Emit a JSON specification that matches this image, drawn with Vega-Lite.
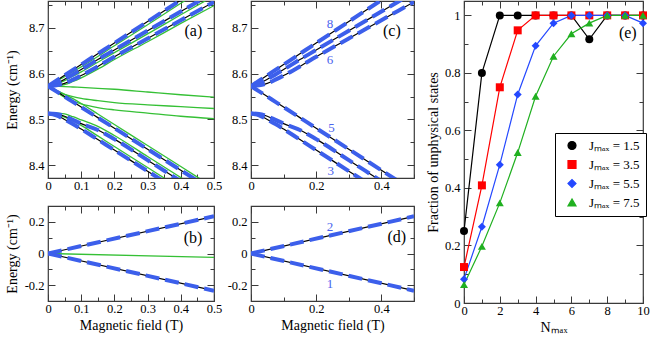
{
"$schema":"https://vega.github.io/schema/vega-lite/v6.json",
"padding":{"left":4,"top":-2,"right":2,"bottom":1},
"config":{
 "font":"Liberation Serif",
 "view":{"stroke":"#3a3a3a","strokeWidth":1.2},
 "axis":{"grid":false,"domain":false,"labelFont":"Liberation Serif","labelFontSize":12.5,"labelColor":"#000","titleFont":"Liberation Serif","titleFontSize":14,"titleFontWeight":"normal","titleColor":"#000","tickColor":"#3a3a3a","tickWidth":1,"labelFlush":false,"labelOverlap":false},
 "axisBottom":{"labelPadding":8,"titlePadding":1},
 "axisLeft":{"labelPadding":11,"titlePadding":4},
 "axisTop":{"minExtent":0,"maxExtent":0},
 "axisRight":{"minExtent":0,"maxExtent":0}
},
"resolve":{"scale":{"fill":"independent","stroke":"independent","shape":"independent"},"legend":{"fill":"independent","stroke":"independent","shape":"independent"}},
"datasets":{
"hf":[
{"c":"U1","x":0,"y":8.573},{"c":"U1","x":0.025,"y":8.5848},{"c":"U1","x":0.05,"y":8.5965},{"c":"U1","x":0.075,"y":8.6083},{"c":"U1","x":0.1,"y":8.62},{"c":"U1","x":0.15,"y":8.6435},{"c":"U1","x":0.2,"y":8.667},{"c":"U1","x":0.3,"y":8.714},{"c":"U1","x":0.4,"y":8.761},{"c":"U1","x":0.5,"y":8.808},
{"c":"U2","x":0,"y":8.573},{"c":"U2","x":0.025,"y":8.5785},{"c":"U2","x":0.05,"y":8.588},{"c":"U2","x":0.075,"y":8.5985},{"c":"U2","x":0.1,"y":8.609},{"c":"U2","x":0.15,"y":8.631},{"c":"U2","x":0.2,"y":8.652},{"c":"U2","x":0.3,"y":8.694},{"c":"U2","x":0.4,"y":8.736},{"c":"U2","x":0.5,"y":8.778},
{"c":"U3","x":0,"y":8.573},{"c":"U3","x":0.025,"y":8.5745},{"c":"U3","x":0.05,"y":8.579},{"c":"U3","x":0.075,"y":8.587},{"c":"U3","x":0.1,"y":8.596},{"c":"U3","x":0.15,"y":8.616},{"c":"U3","x":0.2,"y":8.637},{"c":"U3","x":0.3,"y":8.677},{"c":"U3","x":0.4,"y":8.717},{"c":"U3","x":0.5,"y":8.757},
{"c":"D1","x":0,"y":8.573},{"c":"D1","x":0.025,"y":8.5615},{"c":"D1","x":0.05,"y":8.55},{"c":"D1","x":0.075,"y":8.5385},{"c":"D1","x":0.1,"y":8.527},{"c":"D1","x":0.15,"y":8.504},{"c":"D1","x":0.2,"y":8.481},{"c":"D1","x":0.3,"y":8.435},{"c":"D1","x":0.4,"y":8.389},{"c":"D1","x":0.5,"y":8.343},
{"c":"D2","x":0,"y":8.513},{"c":"D2","x":0.025,"y":8.512},{"c":"D2","x":0.05,"y":8.507},{"c":"D2","x":0.075,"y":8.499},{"c":"D2","x":0.1,"y":8.491},{"c":"D2","x":0.15,"y":8.477},{"c":"D2","x":0.2,"y":8.457},{"c":"D2","x":0.3,"y":8.411},{"c":"D2","x":0.4,"y":8.365},{"c":"D2","x":0.5,"y":8.319},
{"c":"D3","x":0,"y":8.513},{"c":"D3","x":0.025,"y":8.509},{"c":"D3","x":0.05,"y":8.5},{"c":"D3","x":0.075,"y":8.49},{"c":"D3","x":0.1,"y":8.479},{"c":"D3","x":0.15,"y":8.456},{"c":"D3","x":0.2,"y":8.433},{"c":"D3","x":0.3,"y":8.387},{"c":"D3","x":0.4,"y":8.341},{"c":"D3","x":0.5,"y":8.295},
{"c":"GU1","x":0,"y":8.573},{"c":"GU1","x":0.025,"y":8.5838},{"c":"GU1","x":0.05,"y":8.5935},{"c":"GU1","x":0.075,"y":8.6043},{"c":"GU1","x":0.1,"y":8.615},{"c":"GU1","x":0.15,"y":8.6375},{"c":"GU1","x":0.2,"y":8.661},{"c":"GU1","x":0.3,"y":8.707},{"c":"GU1","x":0.4,"y":8.754},{"c":"GU1","x":0.5,"y":8.8},
{"c":"GU2","x":0,"y":8.573},{"c":"GU2","x":0.025,"y":8.5775},{"c":"GU2","x":0.05,"y":8.585},{"c":"GU2","x":0.075,"y":8.5945},{"c":"GU2","x":0.1,"y":8.604},{"c":"GU2","x":0.15,"y":8.625},{"c":"GU2","x":0.2,"y":8.646},{"c":"GU2","x":0.3,"y":8.687},{"c":"GU2","x":0.4,"y":8.729},{"c":"GU2","x":0.5,"y":8.77},
{"c":"GU3","x":0,"y":8.573},{"c":"GU3","x":0.025,"y":8.5735},{"c":"GU3","x":0.05,"y":8.576},{"c":"GU3","x":0.075,"y":8.583},{"c":"GU3","x":0.1,"y":8.591},{"c":"GU3","x":0.15,"y":8.61},{"c":"GU3","x":0.2,"y":8.631},{"c":"GU3","x":0.3,"y":8.67},{"c":"GU3","x":0.4,"y":8.71},{"c":"GU3","x":0.5,"y":8.749},
{"c":"GM1","x":0,"y":8.573},{"c":"GM1","x":0.025,"y":8.5725},{"c":"GM1","x":0.05,"y":8.572},{"c":"GM1","x":0.075,"y":8.571},{"c":"GM1","x":0.1,"y":8.57},{"c":"GM1","x":0.15,"y":8.568},{"c":"GM1","x":0.2,"y":8.566},{"c":"GM1","x":0.3,"y":8.56},{"c":"GM1","x":0.4,"y":8.554},{"c":"GM1","x":0.5,"y":8.549},
{"c":"GM2","x":0,"y":8.573},{"c":"GM2","x":0.025,"y":8.562},{"c":"GM2","x":0.05,"y":8.555},{"c":"GM2","x":0.075,"y":8.55},{"c":"GM2","x":0.1,"y":8.546},{"c":"GM2","x":0.15,"y":8.541},{"c":"GM2","x":0.2,"y":8.537},{"c":"GM2","x":0.3,"y":8.532},{"c":"GM2","x":0.4,"y":8.528},{"c":"GM2","x":0.5,"y":8.524},
{"c":"GM3","x":0,"y":8.573},{"c":"GM3","x":0.025,"y":8.56},{"c":"GM3","x":0.05,"y":8.548},{"c":"GM3","x":0.075,"y":8.54},{"c":"GM3","x":0.1,"y":8.534},{"c":"GM3","x":0.15,"y":8.526},{"c":"GM3","x":0.2,"y":8.521},{"c":"GM3","x":0.3,"y":8.514},{"c":"GM3","x":0.4,"y":8.507},{"c":"GM3","x":0.5,"y":8.502},
{"c":"GD1","x":0,"y":8.573},{"c":"GD1","x":0.025,"y":8.5635},{"c":"GD1","x":0.05,"y":8.555},{"c":"GD1","x":0.075,"y":8.5455},{"c":"GD1","x":0.1,"y":8.535},{"c":"GD1","x":0.15,"y":8.512},{"c":"GD1","x":0.2,"y":8.489},{"c":"GD1","x":0.3,"y":8.443},{"c":"GD1","x":0.4,"y":8.397},{"c":"GD1","x":0.5,"y":8.351},
{"c":"GD2","x":0,"y":8.513},{"c":"GD2","x":0.025,"y":8.514},{"c":"GD2","x":0.05,"y":8.512},{"c":"GD2","x":0.075,"y":8.506},{"c":"GD2","x":0.1,"y":8.499},{"c":"GD2","x":0.15,"y":8.485},{"c":"GD2","x":0.2,"y":8.465},{"c":"GD2","x":0.3,"y":8.419},{"c":"GD2","x":0.4,"y":8.373},{"c":"GD2","x":0.5,"y":8.327},
{"c":"GD3","x":0,"y":8.513},{"c":"GD3","x":0.025,"y":8.511},{"c":"GD3","x":0.05,"y":8.505},{"c":"GD3","x":0.075,"y":8.497},{"c":"GD3","x":0.1,"y":8.487},{"c":"GD3","x":0.15,"y":8.464},{"c":"GD3","x":0.2,"y":8.441},{"c":"GD3","x":0.3,"y":8.395},{"c":"GD3","x":0.4,"y":8.349},{"c":"GD3","x":0.5,"y":8.303}
],
"lo":[
{"c":"P","x":0,"y":0},{"c":"P","x":0.5,"y":0.235},
{"c":"M","x":0,"y":0},{"c":"M","x":0.5,"y":-0.235},
{"c":"G0","x":0,"y":0},{"c":"G0","x":0.5,"y":-0.025}
],
"lab":[
{"p":"a","x":0.438,"y":8.6925,"t":"(a)","k":"p"},
{"p":"b","x":0.437,"y":0.095,"t":"(b)","k":"p"},
{"p":"c","x":0.432,"y":8.6925,"t":"(c)","k":"p"},
{"p":"c","x":0.242,"y":8.709,"t":"8","k":"n"},
{"p":"c","x":0.242,"y":8.629,"t":"6","k":"n"},
{"p":"c","x":0.247,"y":8.481,"t":"5","k":"n"},
{"p":"c","x":0.245,"y":8.388,"t":"3","k":"n"},
{"p":"d","x":0.447,"y":0.105,"t":"(d)","k":"p"},
{"p":"d","x":0.242,"y":0.168,"t":"2","k":"n"},
{"p":"d","x":0.242,"y":-0.19,"t":"1","k":"n"},
{"p":"e","x":9.15,"y":0.9375,"t":"(e)","k":"p"}
],
"frac":[
{"J":"1.5","x":0,"y":0.25},{"J":"1.5","x":1,"y":0.8},{"J":"1.5","x":2,"y":1},{"J":"1.5","x":3,"y":1},{"J":"1.5","x":4,"y":1},{"J":"1.5","x":5,"y":1},{"J":"1.5","x":6,"y":1},{"J":"1.5","x":7,"y":0.917},{"J":"1.5","x":8,"y":1},{"J":"1.5","x":9,"y":1},{"J":"1.5","x":10,"y":1},
{"J":"3.5","x":0,"y":0.125},{"J":"3.5","x":1,"y":0.409},{"J":"3.5","x":2,"y":0.75},{"J":"3.5","x":3,"y":0.948},{"J":"3.5","x":4,"y":1},{"J":"3.5","x":5,"y":1},{"J":"3.5","x":6,"y":1},{"J":"3.5","x":7,"y":1},{"J":"3.5","x":8,"y":1},{"J":"3.5","x":9,"y":1},{"J":"3.5","x":10,"y":1},
{"J":"5.5","x":0,"y":0.083},{"J":"5.5","x":1,"y":0.265},{"J":"5.5","x":2,"y":0.481},{"J":"5.5","x":3,"y":0.725},{"J":"5.5","x":4,"y":0.894},{"J":"5.5","x":5,"y":0.973},{"J":"5.5","x":6,"y":1},{"J":"5.5","x":7,"y":1},{"J":"5.5","x":8,"y":1},{"J":"5.5","x":9,"y":1},{"J":"5.5","x":10,"y":0.973},
{"J":"7.5","x":0,"y":0.064},{"J":"7.5","x":1,"y":0.197},{"J":"7.5","x":2,"y":0.348},{"J":"7.5","x":3,"y":0.523},{"J":"7.5","x":4,"y":0.719},{"J":"7.5","x":5,"y":0.858},{"J":"7.5","x":6,"y":0.936},{"J":"7.5","x":7,"y":0.973},{"J":"7.5","x":8,"y":1},{"J":"7.5","x":9,"y":1},{"J":"7.5","x":10,"y":1}
]
},
"hconcat":[
{"hconcat":[
 {"vconcat":[
  {"width":166,"height":177,"data":{"name":"hf"},
   "layer":[
    {"transform":[{"filter":"indexof(datum.c,'G')==0"}],
     "mark":{"type":"line","color":"#35c035","strokeWidth":1.3,"clip":true,"interpolate":"monotone"},
     "encoding":{
      "x":{"field":"x","type":"quantitative","scale":{"domain":[0,0.5],"nice":false},"axis":{"orient":"bottom","title":null,"values":[0,0.05,0.1,0.15,0.2,0.25,0.3,0.35,0.4,0.45,0.5],"labelExpr":"abs(datum.value*10-round(datum.value*10))<1e-6 ? toString(datum.value) : ''","tickSize":{"condition":{"test":"abs(datum.value*10-round(datum.value*10))<1e-6","value":-7},"value":-4}}},
      "y":{"field":"y","type":"quantitative","scale":{"domain":[8.372,8.759],"nice":false,"zero":false},"axis":{"orient":"left","title":"Energy (cm⁻¹)","minExtent":25,"maxExtent":25,"values":[8.4,8.45,8.5,8.55,8.6,8.65,8.7,8.75],"labelExpr":"abs(datum.value*10-round(datum.value*10))<1e-6 ? toString(datum.value) : ''","tickSize":{"condition":{"test":"abs(datum.value*10-round(datum.value*10))<1e-6","value":-7},"value":-4}}},
      "detail":{"field":"c"}}},
    {"transform":[{"filter":"indexof(datum.c,'G')!=0"}],
     "mark":{"type":"line","color":"#000","strokeWidth":1.2,"clip":true,"interpolate":"monotone"},
     "encoding":{
      "x":{"field":"x","type":"quantitative","scale":{"domain":[0,0.5],"nice":false},"axis":{"orient":"top","title":null,"labels":false,"values":[0,0.05,0.1,0.15,0.2,0.25,0.3,0.35,0.4,0.45,0.5],"tickSize":{"condition":{"test":"abs(datum.value*10-round(datum.value*10))<1e-6","value":-7},"value":-4}}},
      "y":{"field":"y","type":"quantitative","scale":{"domain":[8.372,8.759],"nice":false,"zero":false},"axis":{"orient":"right","title":null,"labels":false,"values":[8.4,8.45,8.5,8.55,8.6,8.65,8.7,8.75],"tickSize":{"condition":{"test":"abs(datum.value*10-round(datum.value*10))<1e-6","value":-7},"value":-4}}},
      "detail":{"field":"c"}}},
    {"transform":[{"filter":"indexof(datum.c,'G')!=0"}],
     "mark":{"type":"line","color":"#3c5feb","strokeWidth":4,"strokeDash":[14,6],"clip":true,"interpolate":"monotone"},
     "encoding":{
      "x":{"field":"x","type":"quantitative","scale":{"domain":[0,0.5],"nice":false},"axis":null},
      "y":{"field":"y","type":"quantitative","scale":{"domain":[8.372,8.759],"nice":false,"zero":false},"axis":null},
      "detail":{"field":"c"}}},
    {"data":{"name":"lab"},"transform":[{"filter":"datum.p=='a'"}],
     "mark":{"type":"text","font":"Liberation Serif","align":"center","baseline":"middle"},
     "encoding":{
      "x":{"field":"x","type":"quantitative","scale":{"domain":[0,0.5],"nice":false},"axis":null},
      "y":{"field":"y","type":"quantitative","scale":{"domain":[8.372,8.759],"nice":false,"zero":false},"axis":null},
      "text":{"field":"t"},
      "color":{"condition":{"test":"datum.k=='n'","value":"#4a63ee"},"value":"#000"},
      "size":{"condition":{"test":"datum.k=='n'","value":13},"value":16}}}
   ],
   "resolve":{"axis":{"x":"independent","y":"independent"}}},
  {"width":166,"height":95,"data":{"name":"lo"},
   "layer":[
    {"transform":[{"filter":"indexof(datum.c,'G')==0"}],
     "mark":{"type":"line","color":"#35c035","strokeWidth":1.3,"clip":true},
     "encoding":{
      "x":{"field":"x","type":"quantitative","scale":{"domain":[0,0.5],"nice":false},"axis":{"orient":"bottom","title":"Magnetic field (T)","values":[0,0.05,0.1,0.15,0.2,0.25,0.3,0.35,0.4,0.45,0.5],"labelExpr":"abs(datum.value*10-round(datum.value*10))<1e-6 ? toString(datum.value) : ''","tickSize":{"condition":{"test":"abs(datum.value*10-round(datum.value*10))<1e-6","value":-7},"value":-4}}},
      "y":{"field":"y","type":"quantitative","scale":{"domain":[-0.3,0.3],"nice":false},"axis":{"orient":"left","title":"Energy (cm⁻¹)","minExtent":25,"maxExtent":25,"values":[-0.2,-0.1,0,0.1,0.2],"labelExpr":"abs(datum.value*5-round(datum.value*5))<1e-6 ? toString(datum.value) : ''","tickSize":{"condition":{"test":"abs(datum.value*5-round(datum.value*5))<1e-6","value":-7},"value":-4}}},
      "detail":{"field":"c"}}},
    {"transform":[{"filter":"indexof(datum.c,'G')!=0"}],
     "mark":{"type":"line","color":"#000","strokeWidth":1.2,"clip":true},
     "encoding":{
      "x":{"field":"x","type":"quantitative","scale":{"domain":[0,0.5],"nice":false},"axis":{"orient":"top","title":null,"labels":false,"values":[0,0.05,0.1,0.15,0.2,0.25,0.3,0.35,0.4,0.45,0.5],"tickSize":{"condition":{"test":"abs(datum.value*10-round(datum.value*10))<1e-6","value":-7},"value":-4}}},
      "y":{"field":"y","type":"quantitative","scale":{"domain":[-0.3,0.3],"nice":false},"axis":{"orient":"right","title":null,"labels":false,"values":[-0.2,-0.1,0,0.1,0.2],"tickSize":{"condition":{"test":"abs(datum.value*5-round(datum.value*5))<1e-6","value":-7},"value":-4}}},
      "detail":{"field":"c"}}},
    {"transform":[{"filter":"indexof(datum.c,'G')!=0"}],
     "mark":{"type":"line","color":"#3c5feb","strokeWidth":4,"strokeDash":[14,6],"clip":true},
     "encoding":{
      "x":{"field":"x","type":"quantitative","scale":{"domain":[0,0.5],"nice":false},"axis":null},
      "y":{"field":"y","type":"quantitative","scale":{"domain":[-0.3,0.3],"nice":false},"axis":null},
      "detail":{"field":"c"}}},
    {"data":{"name":"lab"},"transform":[{"filter":"datum.p=='b'"}],
     "mark":{"type":"text","font":"Liberation Serif","align":"center","baseline":"middle"},
     "encoding":{
      "x":{"field":"x","type":"quantitative","scale":{"domain":[0,0.5],"nice":false},"axis":null},
      "y":{"field":"y","type":"quantitative","scale":{"domain":[-0.3,0.3],"nice":false},"axis":null},
      "text":{"field":"t"},
      "color":{"condition":{"test":"datum.k=='n'","value":"#4a63ee"},"value":"#000"},
      "size":{"condition":{"test":"datum.k=='n'","value":13},"value":16}}}
   ],
   "resolve":{"axis":{"x":"independent","y":"independent"}}}
 ],"spacing":8},
 {"vconcat":[
  {"width":163,"height":177,"data":{"name":"hf"},
   "layer":[
    {"transform":[{"filter":"indexof(datum.c,'G')!=0"}],
     "mark":{"type":"line","color":"#000","strokeWidth":1.2,"clip":true,"interpolate":"monotone"},
     "encoding":{
      "x":{"field":"x","type":"quantitative","scale":{"domain":[0,0.5],"nice":false},"axis":{"orient":"bottom","title":null,"values":[0,0.1,0.2,0.3,0.4,0.5],"labelExpr":"abs(datum.value*5-round(datum.value*5))<1e-6 ? toString(datum.value) : ''","tickSize":{"condition":{"test":"abs(datum.value*5-round(datum.value*5))<1e-6","value":-7},"value":-4}}},
      "y":{"field":"y","type":"quantitative","scale":{"domain":[8.372,8.759],"nice":false,"zero":false},"axis":{"orient":"left","title":null,"values":[8.4,8.45,8.5,8.55,8.6,8.65,8.7,8.75],"labelExpr":"abs(datum.value*10-round(datum.value*10))<1e-6 ? toString(datum.value) : ''","tickSize":{"condition":{"test":"abs(datum.value*10-round(datum.value*10))<1e-6","value":-7},"value":-4}}},
      "detail":{"field":"c"}}},
    {"transform":[{"filter":"indexof(datum.c,'G')!=0"}],
     "mark":{"type":"line","color":"#3c5feb","strokeWidth":4,"strokeDash":[14,6],"clip":true,"interpolate":"monotone"},
     "encoding":{
      "x":{"field":"x","type":"quantitative","scale":{"domain":[0,0.5],"nice":false},"axis":{"orient":"top","title":null,"labels":false,"values":[0,0.1,0.2,0.3,0.4,0.5],"tickSize":{"condition":{"test":"abs(datum.value*5-round(datum.value*5))<1e-6","value":-7},"value":-4}}},
      "y":{"field":"y","type":"quantitative","scale":{"domain":[8.372,8.759],"nice":false,"zero":false},"axis":{"orient":"right","title":null,"labels":false,"values":[8.4,8.45,8.5,8.55,8.6,8.65,8.7,8.75],"tickSize":{"condition":{"test":"abs(datum.value*10-round(datum.value*10))<1e-6","value":-7},"value":-4}}},
      "detail":{"field":"c"}}},
    {"data":{"name":"lab"},"transform":[{"filter":"datum.p=='c'"}],
     "mark":{"type":"text","font":"Liberation Serif","align":"center","baseline":"middle"},
     "encoding":{
      "x":{"field":"x","type":"quantitative","scale":{"domain":[0,0.5],"nice":false},"axis":null},
      "y":{"field":"y","type":"quantitative","scale":{"domain":[8.372,8.759],"nice":false,"zero":false},"axis":null},
      "text":{"field":"t"},
      "color":{"condition":{"test":"datum.k=='n'","value":"#4a63ee"},"value":"#000"},
      "size":{"condition":{"test":"datum.k=='n'","value":13},"value":16}}}
   ],
   "resolve":{"axis":{"x":"independent","y":"independent"}}},
  {"width":163,"height":95,"data":{"name":"lo"},
   "layer":[
    {"transform":[{"filter":"indexof(datum.c,'G')!=0"}],
     "mark":{"type":"line","color":"#000","strokeWidth":1.2,"clip":true},
     "encoding":{
      "x":{"field":"x","type":"quantitative","scale":{"domain":[0,0.5],"nice":false},"axis":{"orient":"bottom","title":"Magnetic field (T)","values":[0,0.1,0.2,0.3,0.4,0.5],"labelExpr":"abs(datum.value*5-round(datum.value*5))<1e-6 ? toString(datum.value) : ''","tickSize":{"condition":{"test":"abs(datum.value*5-round(datum.value*5))<1e-6","value":-7},"value":-4}}},
      "y":{"field":"y","type":"quantitative","scale":{"domain":[-0.3,0.3],"nice":false},"axis":{"orient":"left","title":null,"values":[-0.2,-0.1,0,0.1,0.2],"labelExpr":"abs(datum.value*5-round(datum.value*5))<1e-6 ? toString(datum.value) : ''","tickSize":{"condition":{"test":"abs(datum.value*5-round(datum.value*5))<1e-6","value":-7},"value":-4}}},
      "detail":{"field":"c"}}},
    {"transform":[{"filter":"indexof(datum.c,'G')!=0"}],
     "mark":{"type":"line","color":"#3c5feb","strokeWidth":4,"strokeDash":[14,6],"clip":true},
     "encoding":{
      "x":{"field":"x","type":"quantitative","scale":{"domain":[0,0.5],"nice":false},"axis":{"orient":"top","title":null,"labels":false,"values":[0,0.1,0.2,0.3,0.4,0.5],"tickSize":{"condition":{"test":"abs(datum.value*5-round(datum.value*5))<1e-6","value":-7},"value":-4}}},
      "y":{"field":"y","type":"quantitative","scale":{"domain":[-0.3,0.3],"nice":false},"axis":{"orient":"right","title":null,"labels":false,"values":[-0.2,-0.1,0,0.1,0.2],"tickSize":{"condition":{"test":"abs(datum.value*5-round(datum.value*5))<1e-6","value":-7},"value":-4}}},
      "detail":{"field":"c"}}},
    {"data":{"name":"lab"},"transform":[{"filter":"datum.p=='d'"}],
     "mark":{"type":"text","font":"Liberation Serif","align":"center","baseline":"middle"},
     "encoding":{
      "x":{"field":"x","type":"quantitative","scale":{"domain":[0,0.5],"nice":false},"axis":null},
      "y":{"field":"y","type":"quantitative","scale":{"domain":[-0.3,0.3],"nice":false},"axis":null},
      "text":{"field":"t"},
      "color":{"condition":{"test":"datum.k=='n'","value":"#4a63ee"},"value":"#000"},
      "size":{"condition":{"test":"datum.k=='n'","value":13},"value":16}}}
   ],
   "resolve":{"axis":{"x":"independent","y":"independent"}}}
 ],"spacing":8}
],"spacing":3},
{"width":179,"height":302,"data":{"name":"frac"},
 "layer":[
  {"mark":{"type":"line","strokeWidth":1.2},
   "encoding":{
    "x":{"field":"x","type":"quantitative","scale":{"domain":[0,10],"nice":false},"axis":{"orient":"bottom","title":"Nₘₐₓ","values":[0,1,2,3,4,5,6,7,8,9,10],"labelExpr":"datum.value%2==0 ? toString(datum.value) : ''","tickSize":{"condition":{"test":"datum.value%2==0","value":-7},"value":-4}}},
    "y":{"field":"y","type":"quantitative","scale":{"domain":[0,1.05],"nice":false},"axis":{"orient":"left","title":"Fraction of unphysical states","values":[0,0.1,0.2,0.3,0.4,0.5,0.6,0.7,0.8,0.9,1],"labelExpr":"abs(datum.value*5-round(datum.value*5))<1e-6 ? toString(datum.value) : ''","tickSize":{"condition":{"test":"abs(datum.value*5-round(datum.value*5))<1e-6","value":-7},"value":-4}}},
    "stroke":{"field":"J","type":"nominal","scale":{"domain":["1.5","3.5","5.5","7.5"],"range":["#000000","#ff0000","#2448ff","#20b020"]},
      "legend":{"orient":"none","legendX":91,"legendY":132,"title":null,"strokeColor":"#000","fillColor":"#fff","padding":6,"labelFont":"Liberation Serif","labelFontSize":13,"labelColor":"#000","labelExpr":"'Jₘₐₓ = ' + datum.label","symbolSize":64,"symbolOffset":4.5,"labelOffset":10.5,"rowPadding":5,"symbolStrokeWidth":1.2}}}},
  {"mark":{"type":"point","filled":true,"size":64,"opacity":1},
   "encoding":{
    "x":{"field":"x","type":"quantitative","scale":{"domain":[0,10],"nice":false},"axis":{"orient":"top","title":null,"labels":false,"values":[0,1,2,3,4,5,6,7,8,9,10],"tickSize":{"condition":{"test":"datum.value%2==0","value":-7},"value":-4}}},
    "y":{"field":"y","type":"quantitative","scale":{"domain":[0,1.05],"nice":false},"axis":{"orient":"right","title":null,"labels":false,"values":[0,0.1,0.2,0.3,0.4,0.5,0.6,0.7,0.8,0.9,1],"tickSize":{"condition":{"test":"abs(datum.value*5-round(datum.value*5))<1e-6","value":-7},"value":-4}}},
    "fill":{"field":"J","type":"nominal","scale":{"domain":["1.5","3.5","5.5","7.5"],"range":["#000000","#ff0000","#2448ff","#20b020"]},
      "legend":{"orient":"none","legendX":91,"legendY":132,"title":null,"strokeColor":"#000","fillColor":"#fff","padding":6,"labelFont":"Liberation Serif","labelFontSize":13,"labelColor":"#000","labelExpr":"'Jₘₐₓ = ' + datum.label","symbolSize":64,"symbolOffset":4.5,"labelOffset":10.5,"rowPadding":5,"symbolStrokeWidth":1.2}},
    "shape":{"field":"J","type":"nominal","scale":{"domain":["1.5","3.5","5.5","7.5"],"range":["circle","square","diamond","triangle-up"]},
      "legend":{"orient":"none","legendX":91,"legendY":132,"title":null,"strokeColor":"#000","fillColor":"#fff","padding":6,"labelFont":"Liberation Serif","labelFontSize":13,"labelColor":"#000","labelExpr":"'Jₘₐₓ = ' + datum.label","symbolSize":64,"symbolOffset":4.5,"labelOffset":10.5,"rowPadding":5,"symbolStrokeWidth":1.2}}}},
  {"data":{"name":"lab"},"transform":[{"filter":"datum.p=='e'"}],
   "mark":{"type":"text","font":"Liberation Serif","align":"center","baseline":"middle","fontSize":16},
   "encoding":{
    "x":{"field":"x","type":"quantitative","scale":{"domain":[0,10],"nice":false},"axis":null},
    "y":{"field":"y","type":"quantitative","scale":{"domain":[0,1.05],"nice":false},"axis":null},
    "text":{"field":"t"}}}
 ],
 "resolve":{"axis":{"x":"independent","y":"independent"}}}
],
"spacing":9
}
